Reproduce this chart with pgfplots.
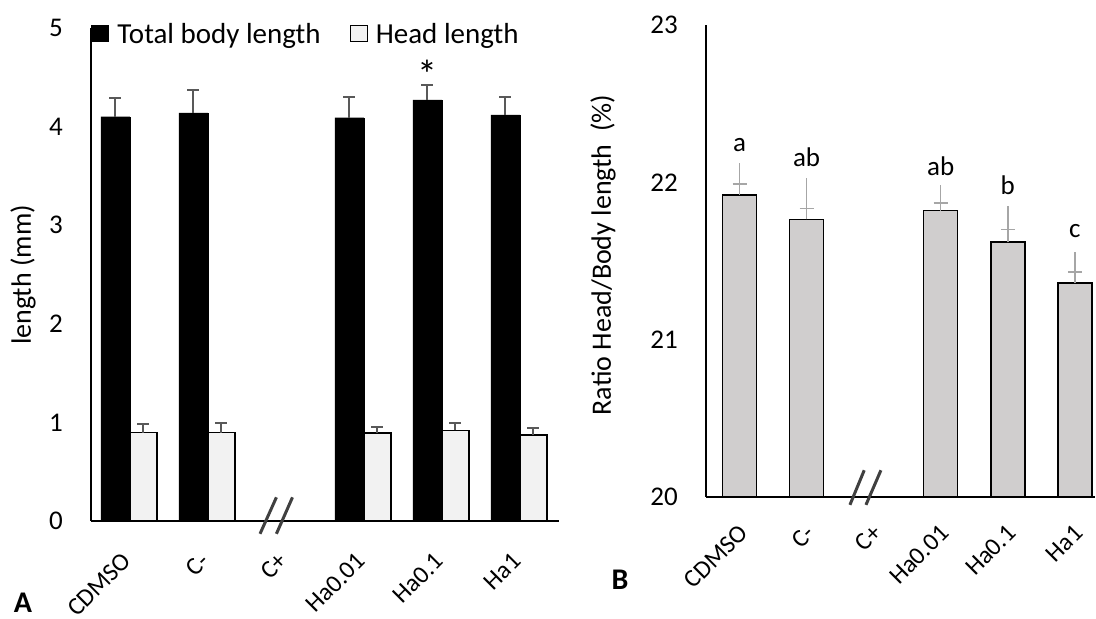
\documentclass[border=0pt]{standalone}
\usepackage{fontspec}
\setmainfont{Carlito}
\usepackage{pgfplots}
\pgfplotsset{compat=1.18}
\definecolor{headfill}{HTML}{F2F2F2}
\definecolor{ratiofill}{HTML}{D0CECE}
\definecolor{errA}{HTML}{595959}
\definecolor{errB}{HTML}{A6A6A6}
\definecolor{brk}{HTML}{404040}
\newcommand{\fs}{\fontsize{27}{32}\selectfont}
\newcommand{\fx}{\fontsize{25}{30}\selectfont}
\newcommand{\fl}{\fontsize{28}{33}\selectfont}
\pgfplotsset{sqlegend/.style={legend image code/.code={\draw[##1,line width=1.2pt] (0pt,-7pt) rectangle (17pt,9pt);}}}
\begin{document}
\begin{tikzpicture}
\useasboundingbox (0pt,0pt) rectangle (1096pt,619pt);
% ---------- Panel A ----------
\begin{axis}[
  at={(91pt,98pt)}, anchor=south west, scale only axis, width=468pt, height=493pt,
  xmin=-0.5, xmax=5.5, ymin=0, ymax=5,
  axis x line=bottom, axis y line=left, axis line style={-, line width=2pt},
  axis on top,
  major tick length=0pt, ytick={0,1,2,3,4,5}, xtick={0,1,2,3,4,5},
  xticklabels={CDMSO,C-,C+,Ha0.01,Ha0.1,Ha1},
  yticklabel style={font=\fs},
  /pgf/number format/assume math mode=true,
  yticklabel style={inner sep=0pt, anchor=east, xshift=-28pt},
  xticklabel style={font=\fx, inner sep=0pt, anchor=north east, xshift=-9pt, yshift=-30pt, rotate=45},
  legend columns=-1,
  legend style={at={(axis cs:-0.5,5.06)}, anchor=north west, draw=none, fill=none,
    inner sep=0pt, font=\fontsize{29}{34}\selectfont, nodes={inner sep=1pt},
    /tikz/every odd column/.append style={column sep=7pt},
    /tikz/every even column/.append style={column sep=28pt}},
]
\addplot[ybar, sqlegend, bar width=29pt, bar shift=0pt, fill=black, draw=black,
  error bars/.cd, y dir=plus, y explicit, error mark=|,
  error bar style={errA, line width=2pt},
  error mark options={errA, line width=2pt, mark size=6pt}]
  coordinates {(-0.186,4.10) +- (0,0.19) (0.814,4.14) +- (0,0.23) (2.814,4.09) +- (0,0.21) (3.814,4.27) +- (0,0.15) (4.814,4.12) +- (0,0.18)};
\addlegendentry{Total body length}
\addplot[ybar, sqlegend, bar width=27pt, bar shift=0pt, fill=headfill, draw=black, line width=1.5pt,
  error bars/.cd, y dir=plus, y explicit, error mark=|,
  error bar style={errA, line width=2pt},
  error mark options={errA, line width=2pt, mark size=6pt}]
  coordinates {(0.173,0.896) +- (0,0.085) (1.173,0.896) +- (0,0.094) (3.173,0.89) +- (0,0.066) (4.173,0.92) +- (0,0.074) (5.173,0.87) +- (0,0.073)};
\addlegendentry{Head length}
\node[font=\fontsize{40}{44}\selectfont, inner sep=0pt, anchor=north] at (axis cs:3.814,4.675) {*};
\coordinate (a1) at (axis cs:1.667,-0.13);
\coordinate (a2) at (axis cs:1.877,0.24);
\coordinate (a3) at (axis cs:1.877,-0.13);
\coordinate (a4) at (axis cs:2.083,0.24);
\end{axis}
\draw[brk, line width=3pt] (a1) -- (a2) (a3) -- (a4);
% ---------- Panel B ----------
\begin{axis}[
  at={(706pt,122pt)}, anchor=south west, scale only axis, width=389pt, height=472pt,
  xmin=-0.5, xmax=5.3, ymin=20, ymax=23,
  axis x line=bottom, axis y line=left, axis line style={-, line width=2pt},
  axis on top,
  major tick length=0pt, ytick={20,21,22,23}, xtick={0,1,2,3,4,5},
  xticklabels={CDMSO,C-,C+,Ha0.01,Ha0.1,Ha1},
  yticklabel style={font=\fs},
  /pgf/number format/assume math mode=true,
  yticklabel style={inner sep=0pt, anchor=east, xshift=-28pt},
  xticklabel style={font=\fx, inner sep=0pt, anchor=north east, xshift=-2pt, yshift=-26pt, rotate=45},
]
\addplot[ybar, bar width=34pt, bar shift=0pt, fill=ratiofill, draw=black, line width=1.5pt,
  error bars/.cd, y dir=plus, y explicit, error mark=|,
  error bar style={errB, line width=1.5pt},
  error mark options={errB, line width=1.5pt, mark size=7pt}]
  coordinates {(0,21.92) +- (0,0.07) (1,21.765) +- (0,0.07) (3,21.82) +- (0,0.05) (4,21.62) +- (0,0.08) (5,21.36) +- (0,0.07)};
\addplot[forget plot, draw=none,
  error bars/.cd, y dir=plus, y explicit, error mark=none,
  error bar style={draw=errB, line width=1.5pt}]
  coordinates {(0,21.92) +- (0,0.20) (1,21.765) +- (0,0.265) (3,21.82) +- (0,0.16) (4,21.62) +- (0,0.23) (5,21.36) +- (0,0.20)};
\node[font=\fs, inner sep=0pt] at (axis cs:0,22.24) {a};
\node[font=\fs, inner sep=0pt] at (axis cs:1,22.16) {ab};
\node[font=\fs, inner sep=0pt] at (axis cs:3,22.105) {ab};
\node[font=\fs, inner sep=0pt] at (axis cs:4,21.98) {b};
\node[font=\fs, inner sep=0pt] at (axis cs:5,21.69) {c};
\coordinate (b1) at (axis cs:1.646,19.95);
\coordinate (b2) at (axis cs:1.859,20.17);
\coordinate (b3) at (axis cs:1.885,19.95);
\coordinate (b4) at (axis cs:2.108,20.17);
\end{axis}
\draw[brk, line width=3pt] (b1) -- (b2) (b3) -- (b4);
% labels
\node[rotate=90, font=\fl] at (23pt,344pt) {length (mm)};
\node[rotate=90, font=\fl] at (603pt,364pt) {Ratio Head/Body length\ \ (\%)};
\node[font=\bfseries\fontsize{30}{36}\selectfont] at (23pt,16pt) {A};
\node[font=\bfseries\fontsize{30}{36}\selectfont] at (620pt,39pt) {B};
\end{tikzpicture}
\end{document}
